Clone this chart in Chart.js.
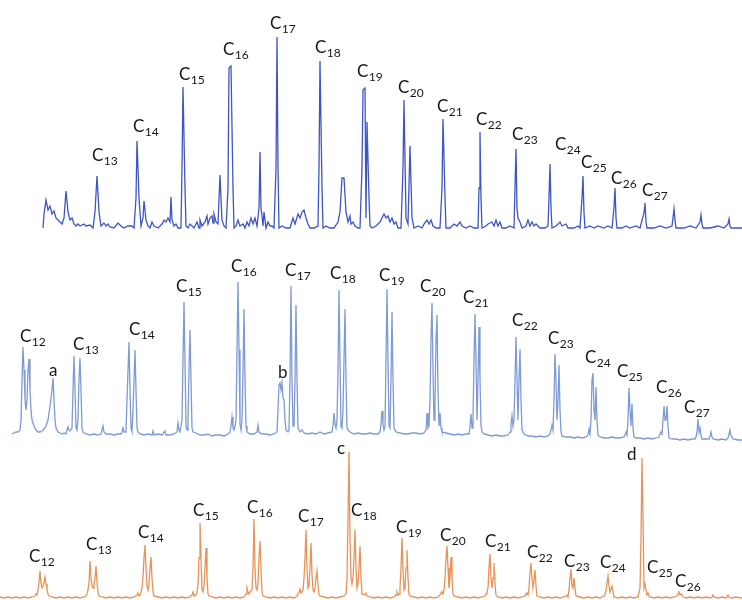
<!DOCTYPE html>
<html>
<head>
<meta charset="utf-8">
<script src="https://cdn.jsdelivr.net/npm/chart.js@4"></script>
<style>
  body { margin: 0; background: #fff; }
  #wrap { position: relative; width: 742px; height: 600px; }
  canvas { position: absolute; left: 0; }
</style>
</head>
<body>
<div id="wrap">
  <canvas id="top" width="742" height="240" style="top:0"></canvas>
  <canvas id="mid" width="742" height="205" style="top:240px"></canvas>
  <canvas id="bot" width="742" height="155" style="top:445px"></canvas>
</div>
<script>
// retention (x) / intensity (y) pairs
var topTrace = [[43,0],[44,14],[46,28],[48,18],[50,22],[52,14],[54,17],[56,10],[58,8],[60,6],[62,4],[64,10],[66,37],[68,16],[70,8],[72,10],[74,4],[76,2],[78,4],[80,2],[84,4],[86,2],[90,3],[93,0],[95,16],[97,52],[99,16],[101,2],[104,5],[106,2],[108,4],[110,1],[114,0],[118,5],[121,2],[124,0],[128,2],[132,2],[134,0],[136,30],[137,87],[139,30],[141,2],[143,10],[144,27],[146,8],[148,2],[150,0],[152,6],[154,2],[158,0],[162,4],[164,8],[166,6],[168,10],[170,6],[171,31],[172,8],[174,2],[176,4],[178,0],[181,0],[182,60],[183,141],[185,40],[186,2],[188,0],[190,4],[192,2],[194,0],[197,6],[199,0],[200,8],[202,2],[205,6],[207,12],[208,4],[210,10],[212,12],[213,5],[214,14],[216,6],[218,4],[220,53],[222,8],[224,2],[226,0],[228,40],[229,160],[231,162],[233,40],[234,0],[236,2],[238,8],[240,2],[243,4],[245,0],[247,6],[249,2],[251,10],[253,4],[255,10],[257,2],[259,20],[260,76],[261,20],[262,12],[263,2],[264,16],[266,0],[268,6],[270,2],[272,2],[274,0],[276,60],[277,191],[278,60],[279,0],[282,2],[286,0],[290,0],[293,10],[295,4],[298,14],[300,10],[302,16],[304,18],[306,10],[308,4],[310,0],[314,0],[318,2],[319,60],[320,167],[322,40],[323,0],[326,2],[330,0],[334,0],[338,6],[340,16],[342,50],[344,50],[346,16],[348,6],[350,12],[351,4],[353,6],[355,2],[358,0],[360,0],[362,60],[363,138],[365,140],[366,10],[367,106],[369,30],[370,2],[372,0],[376,2],[380,6],[384,14],[386,10],[388,12],[390,6],[392,10],[394,4],[396,6],[398,0],[401,0],[403,60],[404,128],[406,10],[408,4],[410,82],[412,10],[414,0],[418,2],[422,0],[424,4],[427,8],[429,4],[431,8],[433,2],[436,0],[440,0],[442,40],[443,109],[445,30],[446,0],[450,0],[454,4],[457,2],[460,6],[462,2],[466,0],[470,2],[474,0],[478,0],[479,40],[480,96],[481,30],[482,0],[486,2],[488,4],[492,6],[494,2],[496,8],[498,2],[500,6],[502,0],[506,0],[510,2],[514,0],[515,40],[516,79],[517,20],[518,10],[520,6],[522,0],[526,2],[528,8],[530,2],[532,6],[534,2],[536,4],[540,0],[545,0],[548,2],[549,30],[550,64],[551,20],[552,0],[556,2],[560,6],[562,2],[566,4],[568,0],[574,0],[578,2],[580,0],[582,30],[583,52],[584,15],[585,0],[590,2],[594,0],[598,2],[604,0],[608,2],[612,0],[614,20],[615,40],[616,10],[617,0],[622,0],[626,2],[630,0],[636,2],[640,0],[644,15],[645,25],[646,6],[647,0],[654,0],[660,2],[666,0],[672,2],[673,10],[674,19],[675,8],[676,0],[684,0],[690,2],[696,0],[700,6],[701,13],[702,4],[703,0],[710,0],[718,2],[724,0],[728,4],[729,9],[730,2],[731,0],[738,0],[742,0]];

var midTrace = [[12,6],[14,7],[16,8],[18,8],[20,10],[21,20],[22,60],[23,93],[24,70],[25,40],[26,30],[27,40],[28,70],[29,81],[30,50],[31,30],[32,20],[34,14],[36,10],[38,8],[40,8],[42,9],[44,11],[46,14],[48,20],[50,34],[52,50],[53,62],[54,40],[55,20],[56,12],[58,8],[60,7],[62,6],[64,7],[66,6],[67,10],[68,13],[69,10],[70,9],[72,12],[73,50],[74,84],[75,50],[76,12],[77,10],[78,20],[79,60],[80,82],[81,50],[82,12],[83,8],[86,6],[90,5],[94,6],[98,5],[101,6],[102,10],[103,14],[104,8],[106,6],[110,6],[114,5],[118,6],[121,6],[122,8],[123,12],[124,8],[125,8],[126,10],[127,40],[129,98],[130,50],[131,12],[132,8],[133,30],[135,90],[136,50],[137,12],[138,8],[140,6],[144,5],[148,6],[152,5],[153,9],[154,5],[158,6],[162,5],[165,9],[166,5],[170,5],[174,6],[177,8],[178,17],[179,10],[180,8],[182,20],[183,80],[184,138],[185,80],[186,14],[187,10],[188,20],[189,70],[190,110],[191,60],[192,12],[193,8],[196,7],[200,5],[204,5],[208,6],[212,4],[216,5],[220,5],[224,4],[228,6],[230,8],[231,14],[232,23],[233,12],[234,10],[235,14],[236,20],[237,90],[238,158],[239,90],[240,16],[241,10],[242,20],[243,70],[244,131],[245,60],[246,14],[247,8],[250,6],[254,6],[257,8],[258,15],[259,8],[262,6],[266,6],[270,5],[274,6],[277,8],[278,30],[279,55],[280,57],[281,50],[282,57],[283,42],[284,40],[285,20],[286,10],[288,8],[289,10],[290,60],[291,154],[292,60],[293,14],[294,14],[295,60],[296,135],[297,60],[298,12],[300,8],[302,10],[304,7],[308,6],[312,7],[316,6],[320,8],[324,6],[328,7],[332,8],[333,14],[334,27],[335,16],[336,12],[337,20],[338,70],[339,150],[340,80],[341,14],[342,12],[343,30],[344,80],[345,131],[346,60],[347,12],[348,10],[350,8],[354,6],[358,7],[362,6],[366,6],[370,7],[374,6],[378,6],[380,8],[381,16],[382,29],[383,16],[384,10],[385,14],[386,80],[387,151],[388,80],[389,14],[390,12],[391,60],[392,128],[393,60],[394,12],[396,8],[400,7],[404,6],[408,6],[412,7],[416,7],[420,6],[424,7],[426,10],[427,27],[428,12],[429,14],[430,40],[431,100],[432,137],[433,70],[434,20],[435,40],[436,100],[437,125],[438,50],[439,14],[440,27],[441,12],[442,8],[446,7],[450,6],[454,5],[458,6],[462,5],[466,6],[469,6],[470,14],[471,26],[472,12],[473,20],[474,80],[475,126],[476,80],[477,20],[478,60],[479,113],[480,60],[481,14],[482,8],[484,6],[488,5],[492,4],[496,5],[500,4],[504,4],[508,5],[510,8],[511,16],[512,24],[513,14],[514,20],[515,60],[516,103],[517,60],[518,20],[519,60],[520,91],[521,40],[522,10],[524,6],[528,4],[532,4],[536,3],[540,4],[544,3],[548,4],[550,6],[551,10],[552,15],[553,10],[554,40],[555,86],[556,60],[557,20],[558,40],[559,75],[560,30],[561,8],[562,4],[566,3],[570,3],[574,2],[578,3],[582,2],[586,3],[588,5],[589,11],[590,6],[591,20],[592,60],[593,67],[594,30],[595,20],[596,53],[597,20],[598,5],[600,3],[604,2],[608,2],[612,3],[616,2],[620,2],[624,3],[625,5],[626,8],[627,5],[628,20],[629,52],[630,30],[631,14],[632,36],[633,12],[634,3],[636,2],[640,2],[644,1],[648,2],[652,1],[656,2],[659,3],[660,6],[661,8],[662,6],[663,20],[664,34],[665,20],[666,20],[667,34],[668,14],[669,2],[672,1],[676,1],[680,0],[684,1],[688,0],[692,1],[695,1],[696,3],[697,8],[698,21],[699,8],[700,12],[701,4],[702,1],[706,1],[709,1],[710,4],[711,8],[712,3],[713,1],[718,0],[722,1],[726,0],[728,2],[729,6],[730,10],[731,4],[732,3],[733,1],[738,0],[742,0]];

var botTrace = [[0,1],[4,0],[8,1],[12,0],[16,1],[20,0],[24,1],[28,0],[32,1],[35,2],[36,4],[37,3],[38,8],[39,16],[40,27],[41,14],[42,10],[43,12],[44,16],[45,21],[46,14],[47,8],[48,4],[49,2],[52,1],[56,0],[60,1],[64,0],[68,1],[72,0],[76,1],[80,0],[84,1],[86,2],[87,4],[88,8],[89,16],[90,37],[91,20],[92,12],[93,10],[94,14],[95,20],[96,32],[97,16],[98,6],[99,2],[102,1],[106,0],[110,1],[114,0],[118,1],[122,0],[126,1],[130,0],[134,1],[137,3],[138,5],[139,2],[140,3],[141,6],[142,10],[143,20],[144,40],[145,53],[146,30],[147,12],[148,8],[149,14],[150,30],[151,41],[152,20],[153,6],[154,2],[158,1],[162,0],[166,1],[170,0],[174,1],[178,0],[182,1],[186,0],[190,1],[192,3],[193,6],[194,2],[196,3],[197,6],[198,12],[199,40],[200,75],[201,40],[202,8],[203,6],[204,12],[205,30],[206,50],[207,20],[208,4],[209,2],[212,1],[216,0],[220,1],[224,0],[228,1],[232,0],[236,1],[240,0],[244,1],[246,4],[247,10],[248,6],[249,4],[250,6],[252,8],[253,30],[254,79],[255,30],[256,10],[257,8],[258,14],[259,40],[260,57],[261,30],[262,6],[263,2],[266,1],[270,0],[274,1],[278,0],[282,1],[286,0],[290,1],[294,0],[297,2],[298,4],[299,6],[300,9],[301,5],[302,6],[303,8],[304,20],[305,40],[306,68],[307,30],[308,10],[309,12],[310,30],[311,55],[312,24],[313,8],[314,6],[315,10],[316,20],[317,27],[318,12],[319,4],[320,2],[324,1],[328,0],[332,1],[336,0],[340,1],[344,2],[346,4],[347,20],[348,80],[349,146],[350,60],[351,20],[352,14],[353,20],[354,40],[355,68],[356,30],[357,10],[358,14],[359,30],[360,52],[361,20],[362,4],[364,3],[366,5],[367,2],[370,1],[374,0],[378,1],[382,0],[386,1],[390,0],[394,1],[396,3],[397,6],[398,3],[399,4],[400,10],[401,30],[402,60],[403,30],[404,8],[405,10],[406,30],[407,48],[408,20],[409,4],[410,2],[414,1],[418,0],[422,1],[426,0],[430,1],[434,0],[438,1],[440,3],[441,5],[442,6],[443,4],[444,8],[445,20],[446,40],[447,52],[448,30],[449,10],[450,20],[451,41],[452,20],[453,4],[454,2],[458,1],[462,0],[466,1],[470,0],[474,1],[478,0],[482,1],[485,2],[486,4],[487,6],[488,10],[489,30],[490,44],[491,20],[492,10],[493,20],[494,35],[495,14],[496,3],[498,1],[502,0],[506,1],[510,0],[514,1],[518,0],[522,1],[525,2],[526,4],[527,5],[528,3],[529,10],[530,25],[531,35],[532,20],[533,10],[534,18],[535,28],[536,12],[537,2],[540,1],[544,0],[548,1],[552,0],[556,1],[560,0],[564,1],[566,2],[567,3],[568,1],[569,8],[570,20],[571,29],[572,12],[573,10],[574,20],[575,10],[576,2],[580,1],[584,0],[588,1],[592,0],[596,1],[600,0],[604,2],[605,3],[606,8],[607,15],[608,22],[609,12],[610,6],[611,9],[612,12],[613,6],[614,1],[618,0],[622,1],[626,0],[630,1],[634,0],[638,1],[640,10],[641,60],[642,140],[643,80],[644,10],[645,14],[646,8],[647,3],[648,5],[649,2],[650,1],[654,0],[658,1],[662,0],[666,1],[670,0],[674,1],[677,2],[678,4],[679,6],[680,3],[681,4],[682,3],[683,1],[686,0],[690,1],[694,0],[698,1],[702,0],[706,1],[710,0],[712,1],[713,3],[714,1],[718,0],[722,1],[726,0],[727,1],[728,3],[729,1],[732,0],[736,1],[742,0]];

// peak labels: name, retention where the text starts, intensity at the text baseline
var topLabels = ["C13","C14","C15","C16","C17","C18","C19","C20","C21","C22","C23","C24","C25","C26","C27"];
var topLabelX = [92,133,179,223,270,315,357,398,437,476,512,555,581,611,642];
var topLabelY = [67,96,148,173,199,175,151,135,116,103,88,78,60,44,32];

var midLabels = ["C12","a","C13","C14","C15","C16","b","C17","C18","C19","C20","C21","C22","C23","C24","C25","C26","C27"];
var midLabelX = [20,49,73,129,176,231,278,285,330,379,420,463,512,548,585,617,656,684];
var midLabelY = [98,64,90,105,148,168,62,164,161,159,148,137,114,96,77,63,47,27];

var botLabels = ["C12","C13","C14","C15","C16","C17","c","C18","C19","C20","C21","C22","C23","C24","d","C25","C26"];
var botLabelX = [29,86,138,193,247,298,337,351,396,440,485,527,564,600,627,647,675];
var botLabelY = [36,48,60,82,85,76,144,82,65,57,51,40,31,30,138,25,11];

var labelPlugin = {
  id: 'peakLabels',
  afterDatasetsDraw: function (chart) {
    var o = chart.options.plugins.peakLabels;
    var ctx = chart.ctx;
    var xs = chart.scales.x, ys = chart.scales.y;
    ctx.save();
    ctx.fillStyle = '#161616';
    ctx.textBaseline = 'alphabetic';
    ctx.textAlign = 'left';
    for (var i = 0; i < o.names.length; i++) {
      var px = xs.getPixelForValue(o.xs[i]);
      var py = ys.getPixelForValue(o.ys[i]);
      var name = o.names[i];
      ctx.font = '17px Lato, "Open Sans", sans-serif';
      ctx.fillText(name.charAt(0), px, py);
      if (name.length > 1) {
        var w = ctx.measureText(name.charAt(0)).width;
        ctx.font = '12px Lato, "Open Sans", sans-serif';
        ctx.fillText(name.slice(1), px + w + 0.5, py + 4);
      }
    }
    ctx.restore();
  }
};

function makePanel(id, trace, color, names, lx, ly, yMin, yMax) {
  new Chart(document.getElementById(id), {
    type: 'line',
    data: {
      datasets: [{
        data: trace.map(function (p) { return {x: p[0], y: p[1]}; }),
        borderColor: color,
        borderWidth: 1.3,
        pointRadius: 0,
        tension: 0,
        fill: false,
        clip: false
      }]
    },
    options: {
      responsive: false,
      animation: false,
      devicePixelRatio: 1,
      layout: {padding: 0},
      scales: {
        x: {type: 'linear', min: 0, max: 742, display: false},
        y: {type: 'linear', min: yMin, max: yMax, display: false}
      },
      plugins: {
        legend: {display: false},
        tooltip: {enabled: false},
        peakLabels: {names: names, xs: lx, ys: ly}
      }
    },
    plugins: [labelPlugin]
  });
}

makePanel('top', topTrace, '#3f55c2', topLabels, topLabelX, topLabelY, -12, 228);
makePanel('mid', midTrace, '#7f9bd4', midLabels, midLabelX, midLabelY, -5, 200);
makePanel('bot', botTrace, '#e8935a', botLabels, botLabelX, botLabelY, -2, 153);
</script>
</body>
</html>
